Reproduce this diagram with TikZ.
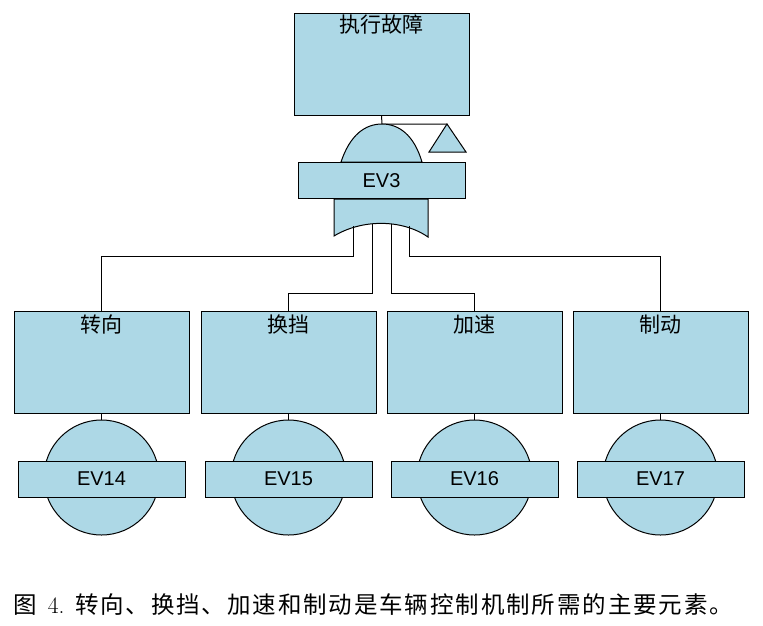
\documentclass[tikz,border=0pt]{standalone}
\usepackage{fontspec}
\setmainfont{Liberation Sans}
\newfontfamily\cjk{Noto Sans CJK SC}
\newfontfamily\lmr{Latin Modern Roman}
\usepackage{tikz}
\definecolor{gatefill}{RGB}{173,216,230}
\tikzset{
  box/.style={draw,fill=gatefill,minimum width=175pt,minimum height=102pt,inner sep=0pt},
  evbox/.style={draw,fill=gatefill,minimum width=167pt,minimum height=36pt,inner sep=0pt,font=\fontsize{20}{20}\selectfont},
  title/.style={font=\cjk\fontsize{21}{21}\selectfont}
}
\begin{document}
\begin{tikzpicture}[x=1pt,y=-1pt,line width=1pt]
\useasboundingbox (0,0) rectangle (763,625);
% top event
\node[box] (top) at (381.5,64) {};
\node[title] at (381.5,25) {执行故障};
\draw (top.south) -- (382,124) coordinate (gtop) -- (447,124) coordinate (tri);
\draw[fill=gatefill] (tri) -- (466,152) -- (429,152) -- cycle;
% or gate
\draw[fill=gatefill] (341,162) .. controls (350,135) and (365,124) .. (gtop)
  .. controls (399,124) and (414,135) .. (422,162) -- cycle;
\draw[fill=gatefill] (334,199) -- (334,236) .. controls (362,219) and (402,219) .. (428,237) -- (428,199) -- cycle;
\node[evbox] (ev3) at (381.5,180.5) {EV3};
\coordinate (g1) at (353,226);
\coordinate (g2) at (372,224);
\coordinate (g3) at (391,224);
\coordinate (g4) at (409,226);
% basic events
\foreach \x/\n/\t/\e in {101.5/a/转向/EV14, 288.5/b/换挡/EV15, 474.5/c/加速/EV16, 660.5/d/制动/EV17}{
  \node[box] (\n) at (\x,362.5) {};
  \node[title] at (\x,325) {\t};
  \node[draw,fill=gatefill,circle,minimum size=115pt] (\n c) at (\x,477.5) {};
  \draw (\n.south) -- (\n c.north);
  \node[evbox] at (\x,479) {\e};
}
\draw (g1) -- (353,256) -| (a.north);
\draw (g2) -- (372,293) -| (b.north);
\draw (g3) -- (391,293) -| (c.north);
\draw (g4) -- (409,256) -| (d.north);
% caption
\node[anchor=west,font=\cjk\fontsize{23.5}{24}\selectfont] (cap) at (10,605)
  {图\ \ {\lmr 4.}\ \ \addfontfeature{LetterSpace=8}转向、换挡、加速和制动是车辆控制机制所需的主要元素。};
\end{tikzpicture}
\end{document}
